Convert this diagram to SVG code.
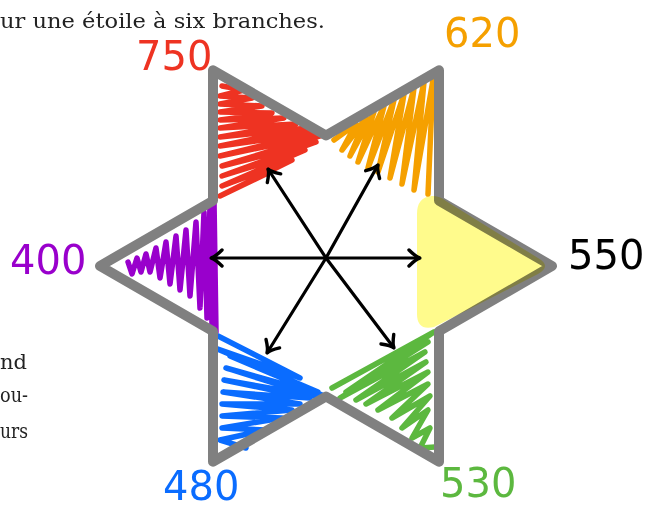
<svg xmlns="http://www.w3.org/2000/svg" width="667" height="510" viewBox="0 0 667 510">
<style>
.body{font-family:"DejaVu Serif","Liberation Serif",serif;font-size:20px;fill:#222}
.num{font-family:"DejaVu Sans","Liberation Sans",sans-serif;font-size:40px}
.scr{fill:none;stroke-width:5.5;stroke-linecap:round;stroke-linejoin:round}
.arr{fill:none;stroke:#000;stroke-width:3.2;stroke-linecap:round}
</style>
<defs>
<marker id="ah" markerUnits="userSpaceOnUse" markerWidth="24" markerHeight="24" viewBox="-14 -12 16 24" refX="0" refY="0" orient="auto">
<path d="M-11,-8 Q-4,-1 0,0 Q-4,1 -11,8" fill="none" stroke="#000" stroke-width="3.4" stroke-linecap="round"/>
</marker>
</defs>
<rect width="667" height="510" fill="#fff"/>
<text class="body" x="0" y="28" textLength="325" lengthAdjust="spacingAndGlyphs">ur une étoile à six branches.</text>
<text class="body" x="0" y="369" textLength="27" lengthAdjust="spacingAndGlyphs">nd</text>
<text class="body" x="0" y="402" textLength="28" lengthAdjust="spacingAndGlyphs">ou-</text>
<text class="body" x="0" y="438" textLength="28" lengthAdjust="spacingAndGlyphs">urs</text>

<g id="scribbles">
<path class="scr" stroke="#ee3322" d="M222,86 L244,90 L220,96 L252,98 L220,104 L262,106 L220,112 L272,113 L220,120 L284,118 L220,128 L296,124 L220,137 L308,128 L220,146 L318,132 L220,156 L326,134 L222,166 L316,142 L222,176 L305,150 L222,186 L292,160 L220,196 L270,172"/>
<path class="scr" stroke="#f5a000" d="M334,140 L356,124 L342,150 L366,118 L350,156 L374,112 L358,162 L384,106 L368,168 L394,100 L378,172 L404,94 L390,178 L414,88 L402,184 L424,82 L414,190 L433,80 L428,194"/>
<path class="scr" stroke="#9900cc" d="M128,262 L132,274 L137,258 L141,272 L146,254 L150,272 L156,248 L160,278 L166,242 L170,284 L176,236 L180,290 L186,230 L190,296 L196,222 L200,308 L204,212 L207,318 L210,205 L212,326 L214,200 L216,332"/>
<path class="scr" stroke="#0a6cff" d="M218,336 L300,378 L215,348 L318,392 L230,356 L322,395 L226,368 L315,396 L224,380 L310,398 L223,392 L300,404 L222,404 L292,410 L222,416 L282,418 L222,428 L266,430 L220,440 L246,448"/>
<path class="scr" stroke="#5cb83f" d="M332,388 L434,332 L346,392 L428,342 L340,398 L425,352 L356,400 L426,362 L366,404 L428,372 L378,410 L428,384 L392,418 L430,396 L402,428 L428,410 L412,438 L430,428 L420,448 L435,447"/>
</g>

<g id="star">
<polygon points="552,266 439,200.75 439,70.3 326,135.5 213,70.3 213,200.75 100,266 213,331.25 213,461.7 326,396.5 439,461.7 439,331.25" fill="none" stroke="#808080" stroke-width="10" stroke-linejoin="round"/>
</g>

<g id="highlight">
<path d="M432,196 Q417,197 417,214 L417,314 Q417,331 434,327 L538,274 Q552,266 538,258 L446,201 Q440,196 432,196 Z" fill="#fffb8c" style="mix-blend-mode:multiply"/>
</g>

<g id="connectors">
<line class="arr" x1="326" y1="258" x2="211" y2="258" marker-end="url(#ah)"/>
<line class="arr" x1="326" y1="258" x2="420" y2="258" marker-end="url(#ah)"/>
<line class="arr" x1="326" y1="258" x2="268" y2="169" marker-end="url(#ah)"/>
<line class="arr" x1="326" y1="258" x2="378" y2="165" marker-end="url(#ah)"/>
<line class="arr" x1="326" y1="258" x2="267" y2="353" marker-end="url(#ah)"/>
<line class="arr" x1="326" y1="258" x2="394" y2="348" marker-end="url(#ah)"/>
</g>

<g id="labels">
<text class="num" x="136" y="70" fill="#ee3322" font-size="34">750</text>
<text class="num" x="444" y="47" fill="#f5a000" font-size="42">620</text>
<text class="num" x="10" y="274" fill="#9900cc">400</text>
<text class="num" x="568" y="269" fill="#000" font-size="46">550</text>
<text class="num" x="163" y="500" fill="#0a6cff" font-size="38">480</text>
<text class="num" x="440" y="497" fill="#5cb83f">530</text>
</g>
</svg>
